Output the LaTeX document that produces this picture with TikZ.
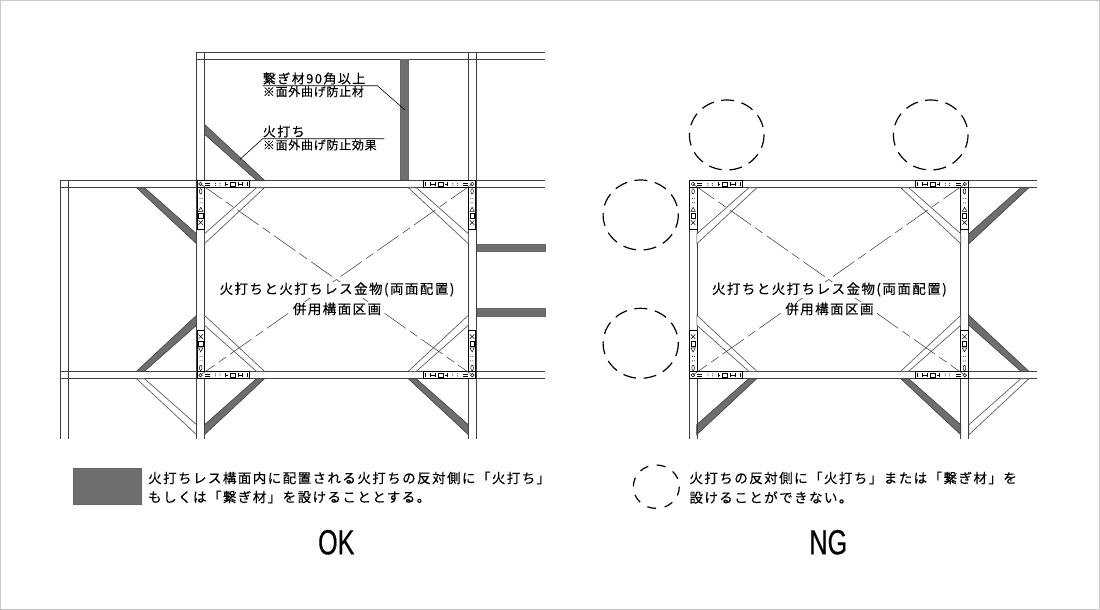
\documentclass[tikz,border=0pt]{standalone}
\usepackage{fontspec}
\newfontfamily\jpfont[LetterSpace=10.7,FakeBold=0.2]{Noto Sans CJK JP}
\newfontfamily\labelfont[LetterSpace=11,FakeBold=0.2]{Noto Sans CJK JP}
\newfontfamily\notefont[LetterSpace=6,FakeBold=0.1]{Noto Sans CJK JP}
\newfontfamily\bigfont[FakeStretch=0.72,FakeBold=0.3]{Liberation Sans}
\begin{document}
\begin{tikzpicture}
	[x=1pt,y=-1pt,
	wall/.style={draw=black!75,line width=.75pt},
	emptybrace/.style={draw=black!70,line width=.6pt,fill=white},
	solidbrace/.style={draw=black!75,line width=.6pt,fill=black!57},
	solidbar/.style={draw=black!60,line width=.6pt,fill=black!57},
	diagonal/.style={draw=black!80,line width=.5pt,dash pattern=on 26pt off 5pt on 9pt off 5pt},
	leader/.style={draw=black,line width=.6pt},
	missing/.style={draw=black,line width=1.2pt,dash pattern=on 13pt off 7.6pt},
	bodytext/.style={anchor=west,inner sep=0pt,font=\fontsize{13.5}{13.5}\jpfont},
	labeltext/.style={anchor=west,inner sep=0pt,font=\fontsize{13}{13}\labelfont},
	centertext/.style={fill=white,inner sep=1pt,font=\fontsize{13.5}{13.5}\jpfont},
	notetext/.style={anchor=west,inner sep=0pt,font=\fontsize{12}{12}\notefont},
	verdict/.style={inner sep=0pt,font=\fontsize{35}{35}\bigfont},
	pics/plate/.style={code={
		\draw[black,line width=.7pt,fill=white] (.5,.5) rectangle (53,7.2);
		\draw[black,line width=.7pt,fill=white] (.5,7.2) rectangle (8,49);
		\draw[line width=.5pt] (4,3.7) circle (1.8);
		\draw[line width=.6pt] (8,3) -- (13,3) (8,4.6) -- (13,4.6);
		\draw[line width=.5pt] (29,1.5) -- (29,6) (29,3.7) -- (31.5,3.7);
		\draw[line width=.5pt] (33.5,1.8) rectangle (38.5,5.8);
		\draw[line width=.5pt] (41.5,1.5) -- (41.5,6) (46,1.5) -- (46,6) (41.5,3.7) -- (46,3.7);
		\draw[line width=.7pt] (51,1.5) -- (51,6);
		\draw[line width=.5pt] (4.2,11) ellipse (1.3 and 2.7);
		\draw[line width=.5pt] (2,31) -- (4.2,27) -- (6.4,31) -- cycle;
		\draw[line width=.5pt] (2,33) rectangle (6.4,37.5);
		\draw[line width=.5pt] (2,40) -- (6.4,44.5) (6.4,40) -- (2,44.5);
		\foreach \gap in {19,23.5}{
			\fill (\gap,3) circle (.5) (\gap,5) circle (.5) (3.5,\gap-1) circle (.5) (5.5,\gap-1) circle (.5);
		}
	}}]
	\useasboundingbox (0,0) rectangle (1100,610);
	\draw[black!22,line width=1pt] (.5,.5) rectangle (1099.5,609.5);

	\draw[wall] (196.5,52.3) -- (545,52.3) (196.5,59.3) -- (545,59.3);
	\draw[wall] (196.5,52.3) -- (196.5,180.3) (204.5,52.3) -- (204.5,180.3);
	\draw[wall] (468.3,52.3) -- (468.3,180.3) (476.3,52.3) -- (476.3,180.3);
	\draw[wall] (60.3,180.3) -- (60.3,439) (68.3,180.3) -- (68.3,439);
	\foreach \y in {180.3,187.7,371.3,378.7}
		\draw[wall] (60.3,\y) -- (196.5,\y) (476.3,\y) -- (545,\y);
	\foreach \y in {180.3,187.7,371.3,378.7}
		\draw[wall] (968.9,\y) -- (1036.7,\y);
	\draw[solidbar] (400.3,59.3) rectangle (408.7,180.3);
	\draw[solidbar] (476.3,244.3) rectangle (545,251);
	\draw[solidbar] (476.3,308.7) rectangle (545,316);

	\foreach \cx/\cy/\sx/\sy/\kind in {
		204.5/180.3/1/-1/solidbrace,196.5/187.7/-1/1/solidbrace,
		196.5/371.3/-1/-1/solidbrace,204.5/378.7/1/1/solidbrace,
		468.3/378.7/-1/1/solidbrace,196.5/378.7/-1/1/emptybrace,
		968.9/187.7/1/1/solidbrace,968.9/371.3/1/-1/solidbrace,
		696.7/378.7/1/1/solidbrace,960.7/378.7/-1/1/solidbrace,
		968.9/378.7/1/1/emptybrace}
		\draw[\kind,shift={(\cx,\cy)},xscale=\sx,yscale=\sy]
			(60,0) -- (52,0) -- (0,46) -- (0,56) -- cycle;

	\foreach \dx/\panel in {0/ok,492.4/ng}{
		\begin{scope}[xshift=\dx]
			\foreach \x in {196.5,204.5,468.3,476.3}
				\draw[wall] (\x,180.3) -- (\x,439);
			\foreach \y in {180.3,187.7,371.3,378.7}
				\draw[wall] (196.5,\y) -- (476.3,\y);
			\foreach \cx/\cy/\sx/\sy in {204.5/187.7/1/1,468.3/187.7/-1/1,204.5/371.3/1/-1,468.3/371.3/-1/-1}
				\draw[emptybrace,shift={(\cx,\cy)},xscale=\sx,yscale=\sy]
					(60,0) -- (52,0) -- (0,46) -- (0,56) -- cycle;
			\foreach \cx/\cy/\sx/\sy in {196.5/180.3/1/1,476.3/180.3/-1/1,196.5/378.9/1/-1,476.3/378.9/-1/-1}
				\pic[xscale=\sx,yscale=\sy] at (\cx,\cy) {plate};
			\draw[diagonal] (200.5,184) -- (472.3,375);
			\draw[diagonal] (472.3,184) -- (200.5,375);
			\node[centertext] (\panel title) at (337,289.5) {火打ちと火打ちレス金物(両面配置)};
			\node[centertext] (\panel area) at (337,309) {併用構面区画};
		\end{scope}
	}

	\coordinate (tieend) at (405,110);
	\coordinate (tieknee) at (377.3,85.7);
	\coordinate (tiestart) at (262.7,85.7);
	\coordinate (braceend) at (240,159.3);
	\coordinate (braceknee) at (262.7,138.7);
	\coordinate (bracestop) at (384.3,138.7);
	\draw[leader] (tiestart) -- (tieknee) -- (tieend);
	\draw[leader] (braceend) -- (braceknee) -- (bracestop);
	\node[labeltext] (tielabel) at (262.7,78.5) {繋ぎ材90角以上};
	\node[notetext] (tienote) at (262.7,91.7) {※面外曲げ防止材};
	\node[labeltext] (bracelabel) at (262.7,131.5) {火打ち};
	\node[notetext] (bracenote) at (262.7,145) {※面外曲げ防止効果};

	\draw[missing] (726.7,135) ellipse (37.3 and 35);
	\draw[missing] (930.7,135) ellipse (37.3 and 35);
	\draw[missing] (640.7,215) ellipse (37.6 and 35);
	\draw[missing] (640.7,343.3) ellipse (37.6 and 35);

	\draw[solidbar] (73.3,468.3) rectangle (141,504.3);
	\node[bodytext] (oktext) at (148,478) {火打ちレス構面内に配置される火打ちの反対側に「火打ち」};
	\node[bodytext] (okmore) at (148,497) {もしくは「繋ぎ材」を設けることとする。};
	\draw[missing,dash pattern=on 9pt off 8.6pt] (656.3,486.7) ellipse (23 and 21.7);
	\node[bodytext] (ngtext) at (689.3,478) {火打ちの反対側に「火打ち」または「繋ぎ材」を};
	\node[bodytext] (ngmore) at (689.3,497.5) {設けることができない。};
	\node[verdict] (okmark) at (336.3,542.3) {OK};
	\node[verdict] (ngmark) at (828.3,542.3) {NG};
\end{tikzpicture}
\end{document}
